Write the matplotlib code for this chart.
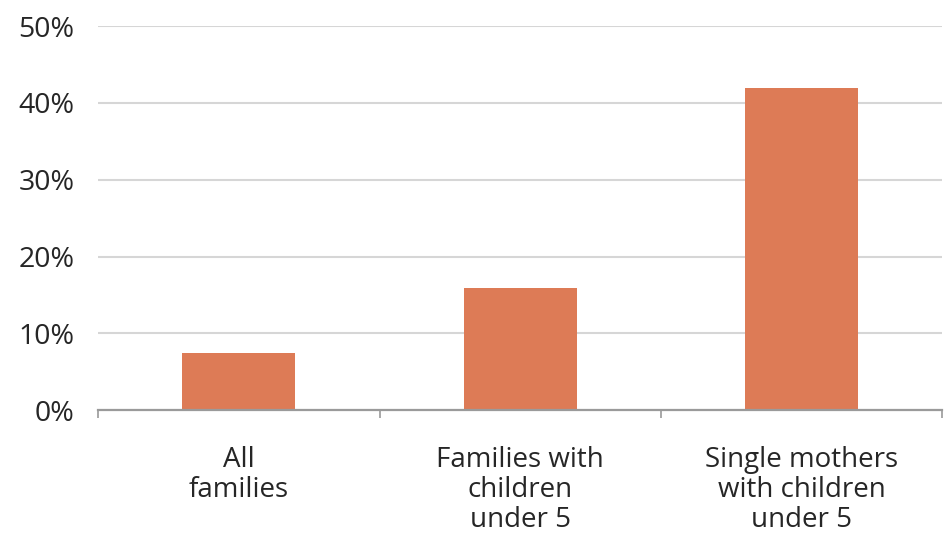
import numpy as np
import matplotlib.pyplot as plt
from matplotlib.ticker import FixedLocator

plt.rcParams['font.family'] = ['Open Sans', 'DejaVu Sans']

categories = ['All\nfamilies', 'Families with\nchildren\nunder 5', 'Single mothers\nwith children\nunder 5']
shares = [7.5, 15.9, 42.0]
y_ticks = [0, 10, 20, 30, 40, 50]

bar_color = '#dd7b56'
grid_color = '#d6d6d6'
axis_color = '#9a9a9a'
text_color = '#262626'

fig = plt.figure(figsize=(9.52, 5.34), dpi=100)
ax = fig.add_axes([0.103, 0.232, 0.887, 0.719])

x = np.arange(len(categories))
ax.bar(x, shares, width=0.4, color=bar_color, zorder=3)

ax.set_xlim(-0.5, len(categories) - 0.5)
ax.set_ylim(0, 50)

ax.set_yticks(y_ticks)
ax.set_yticklabels([f'{v}%' for v in y_ticks])
ax.yaxis.grid(True, color=grid_color, linewidth=1.5, zorder=0)
ax.tick_params(axis='y', length=0, pad=17, labelsize=20.5, labelcolor=text_color)

ax.set_xticks(x)
ax.set_xticklabels(categories, linespacing=1.08)
ax.tick_params(axis='x', which='major', length=0, pad=26, labelsize=20, labelcolor=text_color)
ax.xaxis.set_minor_locator(FixedLocator(np.arange(len(categories) + 1) - 0.5))
ax.tick_params(axis='x', which='minor', length=6, width=1.2, color=axis_color)

for side in ['top', 'right', 'left']:
    ax.spines[side].set_visible(False)
ax.spines['bottom'].set_color(axis_color)
ax.spines['bottom'].set_linewidth(1.6)
ax.spines['bottom'].set_zorder(4)

fig.savefig('out.png', dpi=100, facecolor='white')
